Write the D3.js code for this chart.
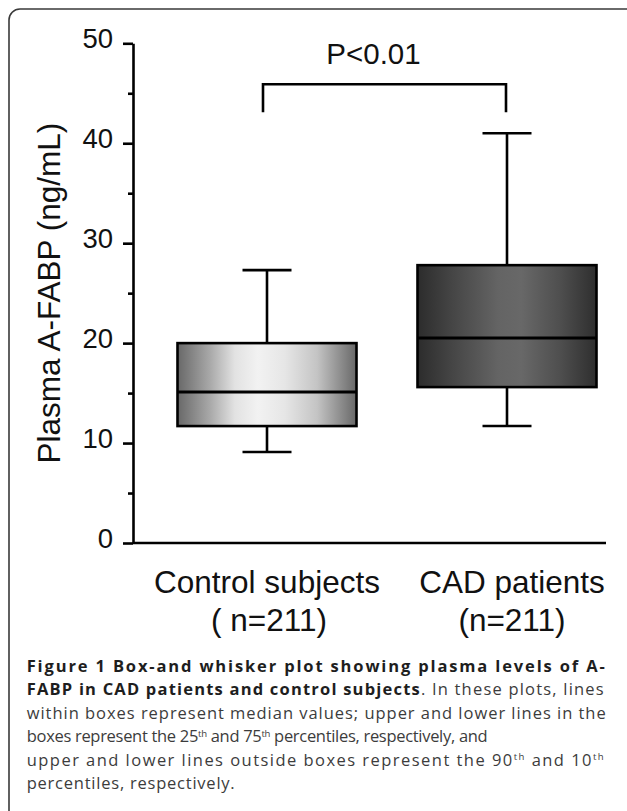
<!DOCTYPE html>
<html>
<head>
<meta charset="utf-8">
<script src="https://cdn.jsdelivr.net/npm/d3@7"></script>
<style>
  html, body { margin: 0; padding: 0; background: #fff; }
  svg { display: block; }
</style>
</head>
<body>
<script>
// ---------- data ----------
const categories = ["Control subjects", "CAD patients"];
const sampleSizes = ["( n=211)", "(n=211)"];
const p10 = [9.1, 11.7];
const q1 = [11.7, 15.6];
const medians = [15.1, 20.5];
const q3 = [20.0, 27.8];
const p90 = [27.3, 41.0];
const majorTicks = [0, 10, 20, 30, 40, 50];
const minorTicks = [5, 15, 25, 35, 45];
const pValueLabel = "P<0.01";
const bracketLevels = [45.9, 43.1]; // top / bottom of the significance bracket (ng/mL)
const yLabel = "Plasma A-FABP (ng/mL)";
const captionLines = [
  [{t: "Figure 1 Box-and whisker plot showing plasma levels of A-", b: true}],
  [{t: "FABP in CAD patients and control subjects", b: true}, {t: ". In these plots, lines"}],
  [{t: "within boxes represent median values; upper and lower lines in the"}],
  [{t: "boxes represent the 25"}, {t: "th", s: true}, {t: " and 75"}, {t: "th", s: true}, {t: " percentiles, respectively, and"}],
  [{t: "upper and lower lines outside boxes represent the 90"}, {t: "th", s: true}, {t: " and 10"}, {t: "th", s: true}],
  [{t: "percentiles, respectively."}]
];
const captionLineWidths = [578, 577, 579, 461, 577, 208]; // widths of the caption lines

// ---------- layout ----------
const W = 627, H = 811;
const axisX = 133, axisRight = 606;
const boxW = 179, capW = 49;
const sw = 2.6;
const chartFont = "'Liberation Sans', Arial, sans-serif";

const svg = d3.select("body").append("svg").attr("width", W).attr("height", H);

// frame
svg.append("rect").attr("x", 9).attr("y", 9).attr("width", 640).attr("height", 840)
  .attr("rx", 11).attr("fill", "none").attr("stroke", "#3a3a3a").attr("stroke-width", 1.6);

// gradients
const defs = svg.append("defs");
const gradStops = [
  [[0, "#686868"], [0.18, "#a8a8a8"], [0.32, "#e2e2e2"], [0.45, "#f2f2f2"], [0.6, "#e6e6e6"], [0.78, "#c4c4c4"], [1, "#686868"]],
  [[0, "#2c2c2c"], [0.2, "#464646"], [0.45, "#646464"], [0.58, "#686868"], [0.8, "#4e4e4e"], [1, "#2e2e2e"]]
];
gradStops.forEach((stops, i) => {
  const g = defs.append("linearGradient").attr("id", "g" + i)
    .attr("x1", 0).attr("x2", 1).attr("y1", 0).attr("y2", 0);
  stops.forEach(s => g.append("stop").attr("offset", s[0]).attr("stop-color", s[1]));
});

// scales
const y = d3.scaleLinear().domain([0, 50]).range([543, 43.3]);
const x = d3.scalePoint().domain(categories).range([267, 507]);

// y axis major
const gy = svg.append("g").attr("transform", `translate(${axisX},0)`)
  .call(d3.axisLeft(y).tickValues(majorTicks).tickSize(10).tickSizeOuter(0).tickPadding(10).tickFormat(d3.format("d")));
gy.select(".domain").attr("stroke", "#000").attr("stroke-width", sw);
gy.selectAll(".tick line").attr("stroke", "#000").attr("stroke-width", sw);
gy.selectAll(".tick text").attr("font-family", chartFont).attr("font-size", 27.5)
  .attr("fill", "#111").attr("dy", "0.15em");

// y axis minor
const gm = svg.append("g").attr("transform", `translate(${axisX},0)`)
  .call(d3.axisLeft(y).tickValues(minorTicks).tickSize(5).tickSizeOuter(0).tickFormat(""));
gm.select(".domain").remove();
gm.selectAll(".tick line").attr("stroke", "#000").attr("stroke-width", sw);

// x axis line
svg.append("line").attr("x1", axisX).attr("x2", axisRight)
  .attr("y1", y(0)).attr("y2", y(0)).attr("stroke", "#000").attr("stroke-width", sw);

// y label
svg.append("text").attr("transform", `translate(60,${(y(0) + y(50)) / 2}) rotate(-90)`)
  .attr("text-anchor", "middle").attr("font-family", chartFont).attr("font-size", 31.5)
  .attr("fill", "#111").text(yLabel);

// boxes
const boxes = categories.map((c, i) => ({c, i, lo: p10[i], q1: q1[i], med: medians[i], q3: q3[i], hi: p90[i]}));
const gb = svg.append("g").selectAll("g").data(boxes).join("g");
// whiskers
gb.append("line").attr("x1", d => x(d.c)).attr("x2", d => x(d.c))
  .attr("y1", d => y(d.hi)).attr("y2", d => y(d.q3)).attr("stroke", "#000").attr("stroke-width", sw);
gb.append("line").attr("x1", d => x(d.c)).attr("x2", d => x(d.c))
  .attr("y1", d => y(d.q1)).attr("y2", d => y(d.lo)).attr("stroke", "#000").attr("stroke-width", sw);
gb.append("line").attr("x1", d => x(d.c) - capW / 2).attr("x2", d => x(d.c) + capW / 2)
  .attr("y1", d => y(d.hi)).attr("y2", d => y(d.hi)).attr("stroke", "#000").attr("stroke-width", sw);
gb.append("line").attr("x1", d => x(d.c) - capW / 2).attr("x2", d => x(d.c) + capW / 2)
  .attr("y1", d => y(d.lo)).attr("y2", d => y(d.lo)).attr("stroke", "#000").attr("stroke-width", sw);
// box
gb.append("rect").attr("x", d => x(d.c) - boxW / 2).attr("width", boxW)
  .attr("y", d => y(d.q3)).attr("height", d => y(d.q1) - y(d.q3))
  .attr("fill", d => `url(#g${d.i})`).attr("stroke", "#000").attr("stroke-width", sw);
// median
gb.append("line").attr("x1", d => x(d.c) - boxW / 2).attr("x2", d => x(d.c) + boxW / 2)
  .attr("y1", d => y(d.med)).attr("y2", d => y(d.med)).attr("stroke", "#000").attr("stroke-width", 3);

// category labels
const labelShift = [0, 5];
categories.forEach((c, i) => {
  const t = svg.append("text").attr("text-anchor", "middle").attr("font-family", chartFont)
    .attr("font-size", 31.5).attr("fill", "#111");
  t.append("tspan").attr("x", x(c) + labelShift[i]).attr("y", 592.5).text(c);
  t.append("tspan").attr("x", x(c) + labelShift[i] + (i === 0 ? 2 : 0)).attr("y", 630.5).text(sampleSizes[i]);
});

// significance bracket
const bx0 = x(categories[0]) - 4, bx1 = x(categories[1]) - 1;
svg.append("path")
  .attr("d", `M${bx0},${y(bracketLevels[1])}V${y(bracketLevels[0])}H${bx1}V${y(bracketLevels[1])}`)
  .attr("fill", "none").attr("stroke", "#000").attr("stroke-width", sw);
svg.append("text").attr("x", (bx0 + bx1) / 2 - 11).attr("y", 64.3).attr("text-anchor", "middle")
  .attr("font-family", chartFont).attr("font-size", 29.5).attr("fill", "#111").text(pValueLabel);

// caption
const capFont = "'Open Sans', 'Noto Sans', sans-serif";
const capX = 26.7, capY0 = 672, capDY = 23.4, supRise = 5.5, fs = 16.5;
const capG = svg.append("g").attr("font-family", capFont).attr("font-size", fs);
captionLines.forEach((line, li) => {
  const t = capG.append("text").attr("x", capX).attr("y", capY0 + li * capDY)
    .attr("textLength", captionLineWidths[li]).attr("lengthAdjust", "spacing");
  let prevSup = false;
  line.forEach(seg => {
    if (seg.s) {
      t.append("tspan").attr("dy", -supRise).attr("font-size", fs * 0.58)
        .attr("fill", "#3c3c3c").text(seg.t);
      prevSup = true;
    } else {
      t.append("tspan").attr("dy", prevSup ? supRise : 0)
        .attr("font-weight", seg.b ? 700 : 400)
        .attr("fill", seg.b ? "#1e1e1e" : "#3c3c3c").text(seg.t);
      prevSup = false;
    }
  });
});
</script>
</body>
</html>
